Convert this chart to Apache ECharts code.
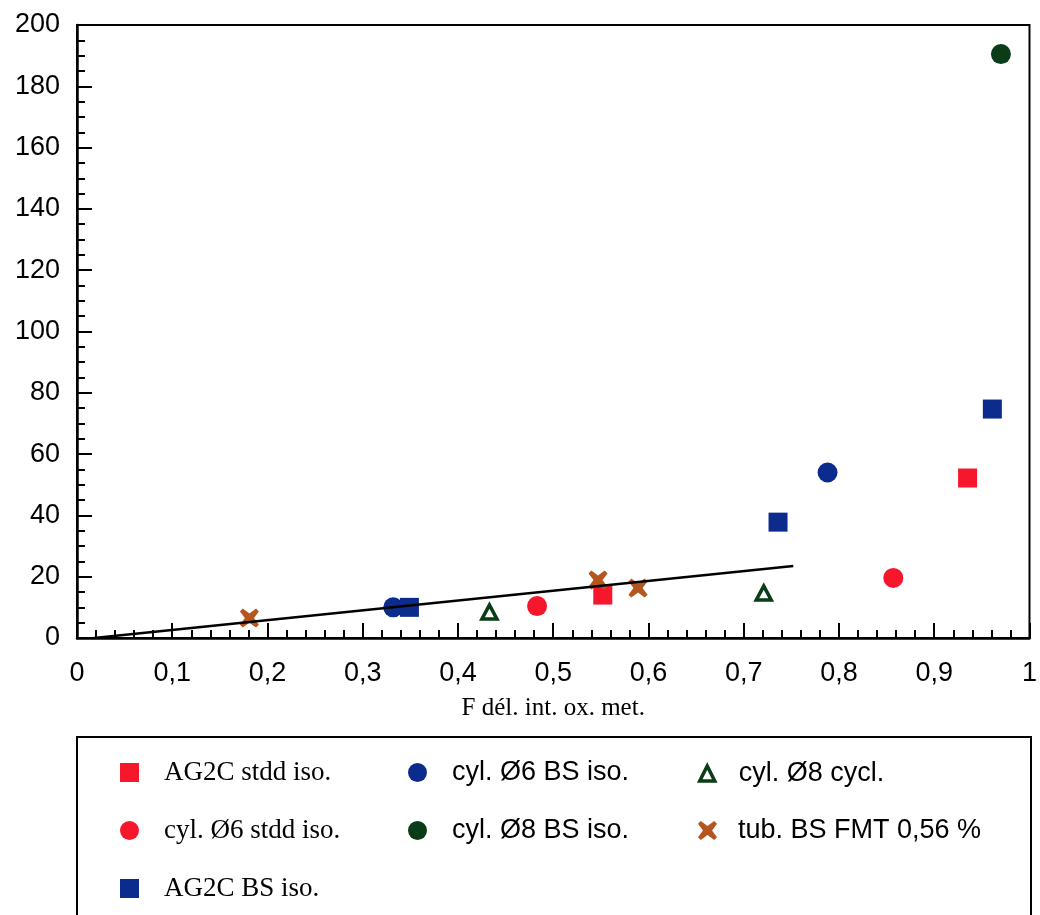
<!DOCTYPE html>
<html><head><meta charset="utf-8">
<script src="https://cdn.jsdelivr.net/npm/echarts@6/dist/echarts.min.js"></script>
<style>html,body{margin:0;padding:0;background:#fff}#c{width:1040px;height:915px}</style>
</head><body><div id="c"></div>
<script>
// ---- data ----
const xTicks = [0,0.1,0.2,0.3,0.4,0.5,0.6,0.7,0.8,0.9,1];
const yTicks = [0,20,40,60,80,100,120,140,160,180,200];
const agStdd   = [[0.552,14.0],[0.935,52.2]];
const cyl6BS   = [[0.332,10.0],[0.788,54.0]];
const cyl8Cycl = [[0.433,8.5],[0.721,14.7]];
const cyl6Stdd = [[0.483,10.4],[0.857,19.6]];
const cyl8BS   = [[0.970,190.5]];
const tubFMT   = [[0.181,6.5],[0.547,18.9],[0.589,16.3]];
const agBS     = [[0.349,10.0],[0.736,37.8],[0.961,74.7]];
const fitLine  = [[0.018,0],[0.752,23.5]];
const names = ['AG2C stdd iso.','cyl. Ø6 BS iso.','cyl. Ø8 cycl.','cyl. Ø6 stdd iso.','cyl. Ø8 BS iso.','tub. BS FMT 0,56 %','AG2C BS iso.'];

const RED='#f7172d', BLUE='#0b2c8c', GREEN='#0a3d17', ORANGE='#b5561f';
const XPATH='path://M1.5,0 L5,2.6 L8.5,0 L10,1.5 L7.4,5 L10,8.5 L8.5,10 L5,7.4 L1.5,10 L0,8.5 L2.6,5 L0,1.5 Z';
const SANS='"Liberation Sans", Arial, sans-serif';
const SERIF='"Liberation Serif", "Times New Roman", serif';

const chart = echarts.init(document.getElementById('c'));
const fmt = v => String(Math.round(v*10)/10).replace('.', ',');
function legendCol(left, top, items, pad, w, h){
  return {
    orient:'vertical', left:left, top:top, itemWidth:w||19, itemHeight:h||19, itemGap:27,
    selectedMode:false,
    textStyle:{fontSize:27, color:'#000', lineHeight:31, height:31, padding:[0,0,0,pad]},
    data: items.map(([n,f,st])=>Object.assign({name:n, textStyle:{fontFamily:f}}, st?{itemStyle:st}:{}))
  };
}
chart.setOption({
  backgroundColor:'#fff',
  animation:false,
  grid:{left:77, right:9, top:25, bottom:277, show:true, borderColor:'#000', borderWidth:2, backgroundColor:'transparent'},
  xAxis:{
    type:'value', min:0, max:1, interval:0.1,
    name:'F dél. int. ox. met.', nameLocation:'middle', nameGap:58,
    nameTextStyle:{fontFamily:SERIF, fontSize:25, color:'#000'},
    axisLine:{lineStyle:{color:'#000', width:2.5}},
    axisTick:{inside:true, length:15, lineStyle:{color:'#000', width:2}},
    minorTick:{show:true, splitNumber:5, length:8, lineStyle:{color:'#000', width:2}},
    axisLabel:{fontFamily:SANS, fontSize:27, color:'#000', margin:22, formatter:fmt},
    splitLine:{show:false}
  },
  yAxis:{
    type:'value', min:0, max:200, interval:20,
    axisLine:{show:true, lineStyle:{color:'#000', width:2.5}},
    axisTick:{show:true, inside:true, length:15, lineStyle:{color:'#000', width:2}},
    minorTick:{show:true, splitNumber:4, length:8, lineStyle:{color:'#000', width:2}},
    axisLabel:{fontFamily:SANS, fontSize:27, color:'#000', margin:17},
    splitLine:{show:false}
  },
  legend:[
    legendCol(115, 752, [[names[0],SERIF],[names[3],SERIF],[names[6],SERIF]], 20),
    legendCol(403, 752, [[names[1],SANS],[names[4],SANS]], 20),
    legendCol(693, 753, [[names[2],SANS,{color:'#fff', borderColor:GREEN, borderWidth:3.5}]], 19, 15, 15),
    legendCol(693, 810, [[names[5],SANS]], 16)
  ],
  graphic:[{type:'rect', shape:{x:77, y:737, width:954, height:200}, style:{fill:'none', stroke:'#000', lineWidth:2}, z:-1}],
  series:[
    {name:names[0], type:'scatter', data:agStdd, symbol:'rect', symbolSize:19, itemStyle:{color:RED, opacity:1}},
    {name:names[1], type:'scatter', data:cyl6BS, symbol:'circle', symbolSize:20, itemStyle:{color:BLUE, opacity:1}},
    {name:names[2], type:'scatter', data:cyl8Cycl, symbol:'triangle', symbolSize:[15,14], itemStyle:{color:'#fff', borderColor:GREEN, borderWidth:3.5, opacity:1}},
    {name:names[3], type:'scatter', data:cyl6Stdd, symbol:'circle', symbolSize:20, itemStyle:{color:RED, opacity:1}},
    {name:names[4], type:'scatter', data:cyl8BS, symbol:'circle', symbolSize:20, itemStyle:{color:GREEN, opacity:1}},
    {name:names[5], type:'scatter', data:tubFMT, symbol:XPATH, symbolSize:19, itemStyle:{color:ORANGE, opacity:1}},
    {name:names[6], type:'scatter', data:agBS, symbol:'rect', symbolSize:19, itemStyle:{color:BLUE, opacity:1}},
    {name:'fit', type:'line', data:fitLine, symbol:'none', z:5, lineStyle:{color:'#000', width:2.5}}
  ]
});
</script></body></html>
